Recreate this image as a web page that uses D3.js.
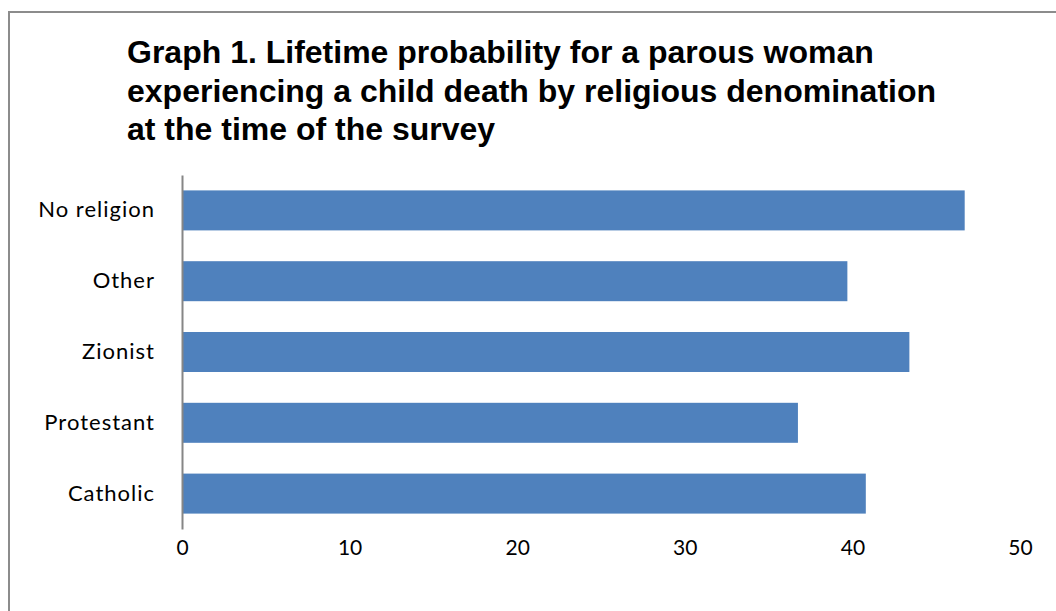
<!DOCTYPE html>
<html>
<head>
<meta charset="utf-8">
<script src="https://cdn.jsdelivr.net/npm/d3@7"></script>
<style>
  body { margin: 0; background: #fff; }
  svg { display: block; }
</style>
</head>
<body>
<svg id="chart"></svg>
<script>
var categories = ['No religion', 'Other', 'Zionist', 'Protestant', 'Catholic'];
var values = [46.7, 39.7, 43.4, 36.75, 40.8];
var xTicks = [0, 10, 20, 30, 40, 50];
var titleLines = [
    'Graph 1. Lifetime probability for a parous woman',
    'experiencing a child death by religious denomination',
    'at the time of the survey'
];

var width = 1056,
    height = 611,
    plotLeft = 182,
    plotRight = 1020,
    plotTop = 175,
    plotBottom = 529;

var svg = d3.select('svg#chart')
    .attr('width', width)
    .attr('height', height);

// chart frame, cut off at right and bottom like the screenshot
svg.append('rect')
    .attr('x', 9)
    .attr('y', 12)
    .attr('width', 1100)
    .attr('height', 700)
    .attr('fill', 'none')
    .attr('stroke', '#8c8c8c')
    .attr('stroke-width', 2);

svg.append('g')
    .selectAll('text')
    .data(titleLines)
    .join('text')
    .attr('x', 127)
    .attr('y', function(d, i) { return 63 + i * 38.5; })
    .attr('font-family', 'Liberation Sans, Arial, sans-serif')
    .attr('font-weight', 'bold')
    .attr('font-size', 32)
    .attr('fill', '#000')
    .text(function(d) { return d; });

var x = d3.scaleLinear().domain([0, 50]).range([plotLeft, plotRight]);
var y = d3.scaleBand().domain(categories).range([plotTop, plotBottom])
    .paddingInner(0.435).paddingOuter(0.2175);

svg.append('g')
    .selectAll('rect')
    .data(values)
    .join('rect')
    .attr('x', x(0))
    .attr('y', function(d, i) { return y(categories[i]); })
    .attr('width', function(d) { return x(d) - x(0); })
    .attr('height', y.bandwidth())
    .attr('fill', '#4f81bd');

// vertical category axis
var yAxis = svg.append('g')
    .attr('transform', 'translate(' + plotLeft + ',0)')
    .call(d3.axisLeft(y).tickSize(0).tickPadding(27));
yAxis.select('.domain').attr('stroke', '#868686').attr('stroke-width', 2);
yAxis.selectAll('text')
    .attr('font-family', 'Lato, sans-serif')
    .attr('font-size', 22)
    .attr('letter-spacing', 1)
    .attr('fill', '#000');

// value labels, no line
var xAxis = svg.append('g')
    .attr('transform', 'translate(0,' + plotBottom + ')')
    .call(d3.axisBottom(x).tickValues(xTicks).tickSize(0).tickPadding(11));
xAxis.select('.domain').remove();
xAxis.selectAll('text')
    .attr('font-family', 'Lato, sans-serif')
    .attr('font-size', 21)
    .attr('fill', '#000');
</script>
</body>
</html>
